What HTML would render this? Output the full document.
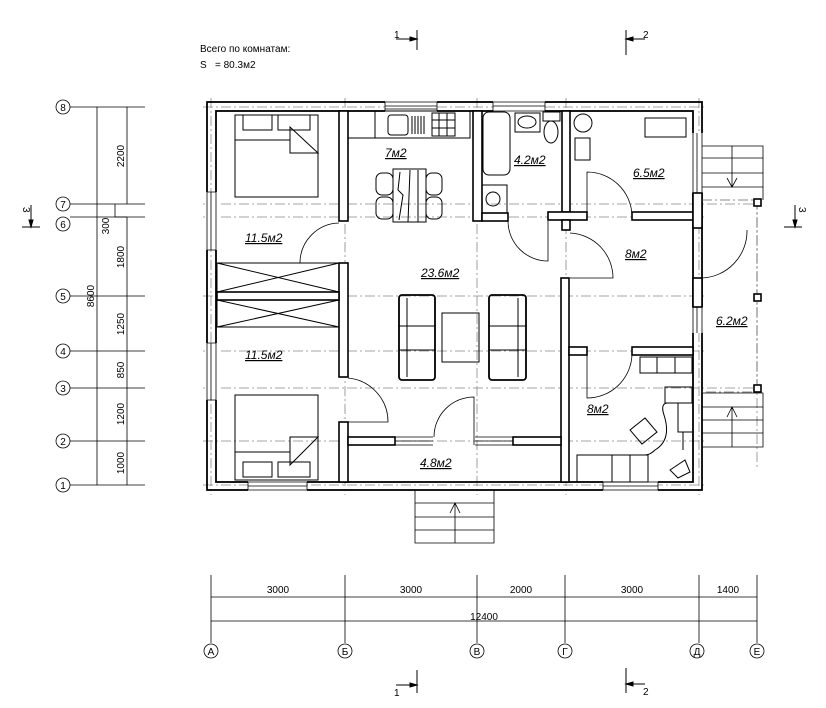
<!DOCTYPE html>
<html><head><meta charset="utf-8"><style>
html,body{margin:0;padding:0;background:#fff;}
svg{display:block;}
text{font-family:"Liberation Sans Narrow","Liberation Sans",sans-serif;fill:#000;}
.lbl{font-size:12px;font-style:italic;text-decoration:underline;}
.dim{font-size:10px;}
</style></head><body>
<svg width="826" height="708" viewBox="0 0 826 708" xmlns="http://www.w3.org/2000/svg">
<g stroke="#888" stroke-width="0.8" stroke-dasharray="10,3,2,3" fill="none">
<line x1="211" y1="98" x2="211" y2="495"/><line x1="345" y1="98" x2="345" y2="495"/>
<line x1="477" y1="98" x2="477" y2="495"/><line x1="566" y1="98" x2="566" y2="495"/>
<line x1="699" y1="98" x2="699" y2="495"/><line x1="757" y1="200" x2="757" y2="470"/>
<line x1="203" y1="107" x2="706" y2="107"/><line x1="203" y1="204" x2="760" y2="204"/>
<line x1="203" y1="217" x2="706" y2="217"/><line x1="203" y1="296" x2="706" y2="296"/>
<line x1="203" y1="351" x2="706" y2="351"/><line x1="203" y1="388" x2="760" y2="388"/>
<line x1="203" y1="441" x2="706" y2="441"/><line x1="203" y1="485" x2="706" y2="485"/>
</g>
<g stroke="#000" fill="none" stroke-width="1.8">
<rect x="207" y="102" width="495" height="388"/>
<rect x="216" y="111" width="477" height="371"/>
</g>
<g fill="#fff" stroke="none">
<rect x="385" y="100" width="52" height="13"/><rect x="493" y="100" width="52" height="13"/>
<rect x="205" y="192" width="13" height="58"/><rect x="205" y="343" width="13" height="57"/>
<rect x="248" y="480" width="59" height="12"/><rect x="603" y="480" width="55" height="12"/>
<rect x="691" y="133" width="13" height="60"/><rect x="691" y="307" width="13" height="26"/>
</g>
<g stroke="#000" stroke-width="0.8" fill="none">
<path d="M385 102H437M385 106H437M385 109H437M385 111H437M385 102V111M437 102V111"/>
<path d="M493 102H545M493 106H545M493 111H545M493 102V111M545 102V111"/>
<path d="M207 192V250M211 192V250M216 192V250M207 192H216M207 250H216"/>
<path d="M207 343V400M211 343V400M216 343V400M207 343H216M207 400H216"/>
<path d="M248 482H307M248 486H307M248 490H307M248 482V490M307 482V490"/>
<path d="M603 482H658M603 486H658M603 490H658M603 482V490M658 482V490"/>
<path d="M693 133V193M697 133V193M702 133V193"/>
<path d="M693 307V333M697 307V333M702 307V333"/>
</g>
<g stroke="#000" stroke-width="1.6" fill="#fff">
<rect x="339" y="111" width="9" height="110"/>
<rect x="339" y="263" width="9" height="114"/>
<rect x="339" y="422" width="9" height="60"/>
<rect x="217" y="292" width="122" height="8"/>
<rect x="473" y="111" width="9" height="110"/>
<rect x="482" y="213" width="26" height="8"/>
<rect x="562" y="111" width="8" height="101"/>
<rect x="548" y="212" width="39" height="8"/>
<rect x="632" y="212" width="61" height="8"/>
<rect x="562" y="220" width="8" height="10"/>
<rect x="561" y="278" width="8" height="204"/>
<rect x="569" y="347" width="18" height="8"/>
<rect x="632" y="347" width="61" height="8"/>
<rect x="348" y="437" width="47" height="8"/>
<rect x="513" y="437" width="48" height="8"/>
<rect x="693" y="193" width="9" height="35"/>
<rect x="693" y="278" width="9" height="29"/>
</g>
<g stroke="#000" stroke-width="0.8" fill="none">
<path d="M395 437H433M395 441H433M395 445H433M475 437H513M475 441H513M475 445H513"/>
<path d="M339 263H300A40 40 0 0 1 339 223"/>
<path d="M348 422H388A44 44 0 0 0 348 378"/>
<path d="M548 221V261A40 40 0 0 1 508 221"/>
<path d="M587 215V172A45 45 0 0 1 632 215"/>
<path d="M570 278H613A45 45 0 0 0 570 233"/>
<path d="M587 355V398A45 45 0 0 0 632 355"/>
<path d="M702 278A47 47 0 0 0 747 230"/>
<path d="M474 445V397A40 40 0 0 0 434 437"/>
</g>
<g stroke="#000" stroke-width="0.8" fill="none">
<path d="M702 200H757V392H702" stroke-dasharray="10,3,2,3" stroke="#666"/>
<path d="M702 146H763V200M702 158H763M702 173H763M702 187H763M732 146V187M727 178L732 187L737 178"/>
<path d="M702 393H763V447H702M702 407H763M702 420H763M702 433H763M732 447V407M727 417L732 407L737 417"/>
<path d="M415 490V543H494V490M415 503H494M415 517H494M415 530H494M455 543V503M450 513L455 503L460 513"/>
</g>
<g stroke="#000" stroke-width="1.6" fill="#fff">
<rect x="754" y="199" width="7" height="7"/><rect x="754" y="294" width="7" height="7"/><rect x="754" y="385" width="7" height="7"/>
</g>
<g stroke="#000" stroke-width="1" fill="none">
<rect x="235" y="115" width="83" height="82"/><rect x="243" y="115" width="29" height="15"/><rect x="278" y="115" width="32" height="15"/>
<path d="M235 140H290V127L318 153H290V140"/>
<rect x="235" y="395" width="83" height="85"/><rect x="243" y="462" width="29" height="15"/><rect x="278" y="462" width="32" height="15"/>
<path d="M235 452H290V465L318 437H290V452"/>
<rect x="217" y="263" width="122" height="29"/><path d="M217 263L339 292M217 292L339 263"/>
<rect x="217" y="300" width="122" height="27"/><path d="M217 300L339 327M217 327L339 300"/>
<rect x="348" y="111" width="122" height="27"/><rect x="348" y="111" width="27" height="27"/>
<rect x="388" y="115" width="20" height="20" rx="3"/><path d="M412 116V134M415 116V134M418 116V134M421 116V134M424 116V134"/>
<rect x="432" y="113" width="23" height="23"/><path d="M432 120H455M432 128H455M439 113V136M447 113V136"/>
<rect x="393" y="169" width="33" height="53"/><path d="M400 172L398 190L403 195L399 220M410 170L408 222M418 170V222"/>
<rect x="376" y="173" width="17" height="22" rx="6"/><rect x="376" y="197" width="17" height="22" rx="6"/>
<rect x="426" y="173" width="16" height="22" rx="6"/><rect x="426" y="197" width="16" height="22" rx="6"/>
<rect x="483" y="112" width="27" height="63" rx="6"/>
<rect x="515" y="113" width="25" height="19"/><ellipse cx="527" cy="122" rx="9" ry="6"/>
<rect x="543" y="112" width="17" height="9"/><ellipse cx="551" cy="132" rx="7" ry="11"/>
<rect x="482" y="185" width="25" height="28"/><circle cx="493" cy="199" r="7"/>
<circle cx="583" cy="123" r="9"/><rect x="575" y="138" width="15" height="22"/><rect x="645" y="118" width="41" height="19"/>
<rect x="399" y="295" width="36" height="85" rx="3" stroke-width="1.8"/><path d="M407 298V377M399 326H435M399 350H435"/>
<rect x="489" y="295" width="37" height="85" rx="3" stroke-width="1.8"/><path d="M518 298V377M489 326H526M489 350H526"/>
<rect x="442" y="313" width="37" height="49"/>
<rect x="640" y="357" width="52" height="16"/><path d="M657 357V373M675 357V373"/>
<rect x="577" y="455" width="71" height="27"/><path d="M612 455V482M630 455V482"/>
<path d="M665 387H692V403H665ZM668 403Q660 403 664 415Q672 440 655 450Q650 455 645 455"/>
<path d="M678 403V432H692M683 432V450"/>
<path d="M630 430L645 418L657 432L642 444Z"/>
<path d="M670 470L685 460L690 472L678 478Z"/>
</g>
<text class="lbl" x="385" y="157">7м2</text>
<text class="lbl" x="514" y="164">4.2м2</text>
<text class="lbl" x="633" y="177">6.5м2</text>
<text class="lbl" x="245" y="242">11.5м2</text>
<text class="lbl" x="421" y="277">23.6м2</text>
<text class="lbl" x="625" y="258">8м2</text>
<text class="lbl" x="716" y="325">6.2м2</text>
<text class="lbl" x="245" y="359">11.5м2</text>
<text class="lbl" x="587" y="413">8м2</text>
<text class="lbl" x="420" y="467">4.8м2</text>
<text class="dim" x="200" y="52">Всего по комнатам:</text>
<text class="dim" x="200" y="68">S&#160;&#160;&#160;= 80.3м2</text>
<g stroke="#000" stroke-width="1" fill="#000">
<path d="M417 30V50M396 39H417" fill="none"/><path d="M410 37L417 39L410 41Z"/>
<path d="M626 30V55M626 39H645" fill="none"/><path d="M633 37L626 39L633 41Z"/>
<path d="M417 670V693M396 685H417" fill="none"/><path d="M410 683L417 685L410 687Z"/>
<path d="M626 668V693M626 684H645" fill="none"/><path d="M633 682L626 684L633 686Z"/>
<path d="M22 227H40M31 205V227" fill="none"/><path d="M29 220L31 227L33 220Z"/>
<path d="M784 227H802M795 205V227" fill="none"/><path d="M793 220L795 227L797 220Z"/>
</g>
<text class="dim" x="394" y="38">1</text><text class="dim" x="643" y="38">2</text>
<text class="dim" x="394" y="696">1</text><text class="dim" x="643" y="695">2</text>
<text class="dim" transform="translate(23,207) rotate(90)">3</text>
<text class="dim" transform="translate(799,207) rotate(90)">3</text>
<g stroke="#000" stroke-width="0.8" fill="none">
<path d="M211 575V643M345 575V643M477 575V643M565 575V643M699 575V643M757 575V643"/>
<path d="M211 597H757M211 621H757"/>
<circle cx="211" cy="651" r="7"/><circle cx="345" cy="651" r="7"/><circle cx="477" cy="651" r="7"/>
<circle cx="565" cy="651" r="7"/><circle cx="697" cy="651" r="7"/><circle cx="757" cy="651" r="7"/>
</g>
<g class="dim" font-size="10" text-anchor="middle">
<text x="278" y="593">3000</text><text x="411" y="593">3000</text><text x="521" y="593">2000</text>
<text x="632" y="593">3000</text><text x="728" y="593">1400</text><text x="484" y="620">12400</text>
<text x="211" y="655">A</text><text x="345" y="655">Б</text><text x="477" y="655">В</text>
<text x="565" y="655">Г</text><text x="697" y="655">Д</text><text x="757" y="655">Е</text>
</g>
<g stroke="#000" stroke-width="0.8" fill="none">
<path d="M70 107H145M70 204H145M70 217H145M70 296H145M70 351H145M70 388H145M70 441H145M70 485H145"/>
<path d="M97 107V485M127 107V204M127 217V485M115 204V217H127"/>
<circle cx="63" cy="107" r="7"/><circle cx="63" cy="204" r="7"/><circle cx="63" cy="224" r="7"/>
<circle cx="63" cy="296" r="7"/><circle cx="63" cy="351" r="7"/><circle cx="63" cy="388" r="7"/>
<circle cx="63" cy="441" r="7"/><circle cx="63" cy="485" r="7"/>
</g>
<g class="dim" font-size="10" text-anchor="middle">
<text x="63" y="111">8</text><text x="63" y="208">7</text><text x="63" y="228">6</text><text x="63" y="300">5</text>
<text x="63" y="355">4</text><text x="63" y="392">3</text><text x="63" y="445">2</text><text x="63" y="489">1</text>
<text transform="translate(124,156) rotate(-90)">2200</text>
<text transform="translate(109,226) rotate(-90)">300</text>
<text transform="translate(124,257) rotate(-90)">1800</text>
<text transform="translate(124,324) rotate(-90)">1250</text>
<text transform="translate(124,370) rotate(-90)">850</text>
<text transform="translate(124,414) rotate(-90)">1200</text>
<text transform="translate(124,463) rotate(-90)">1000</text>
<text transform="translate(94,296) rotate(-90)">8600</text>
</g>
</svg>
</body></html>
